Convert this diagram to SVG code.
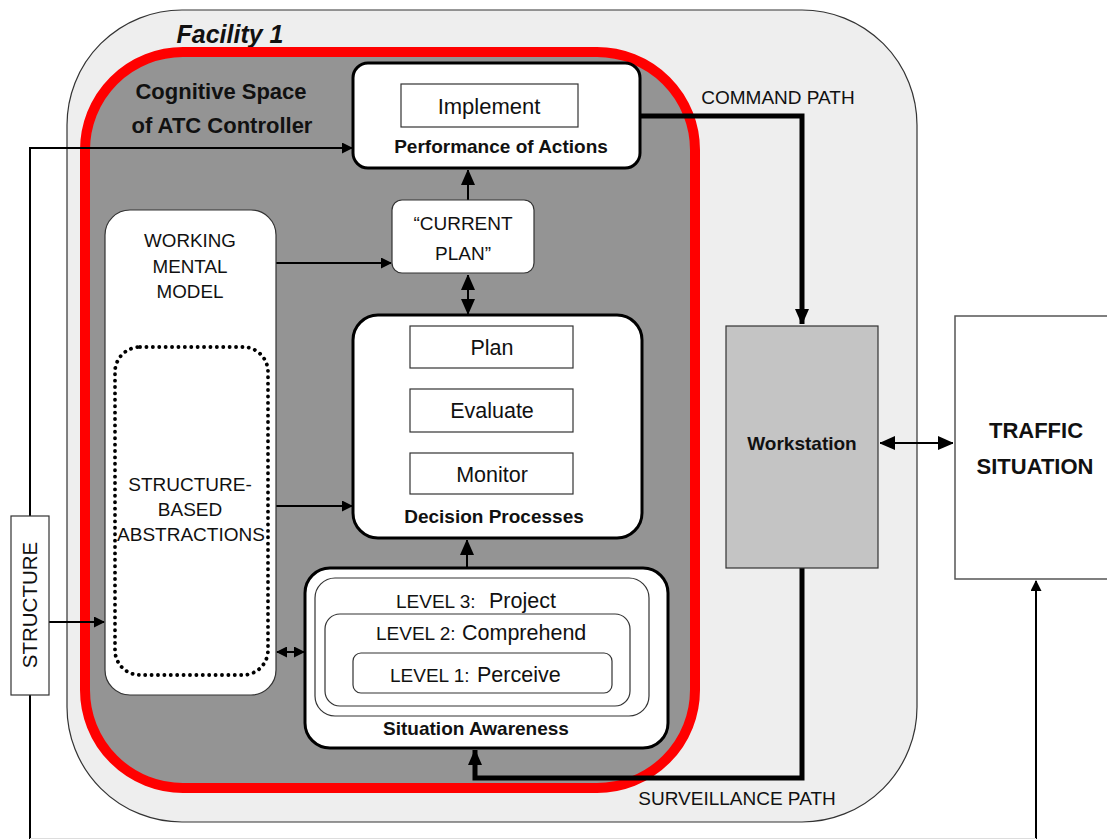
<svg xmlns="http://www.w3.org/2000/svg" width="1107" height="839" viewBox="0 0 1107 839">
<defs>
<marker id="ah" markerUnits="userSpaceOnUse" markerWidth="14" markerHeight="16" refX="15" refY="7" orient="auto-start-reverse"><path d="M0,0 L16,7 L0,14 z" fill="#000"/></marker>
<marker id="at" markerUnits="userSpaceOnUse" markerWidth="11" markerHeight="11" refX="10" refY="5.5" orient="auto-start-reverse"><path d="M0,0 L11,5.5 L0,11 z" fill="#000"/></marker>
<style>
text{font-family:"Liberation Sans",Arial,sans-serif;fill:#111}
.b{font-weight:bold}
.box{fill:#fff;stroke:#000;stroke-width:3}
.thin{fill:#fff;stroke:#333;stroke-width:1.2}
.thick{fill:none;stroke:#000;stroke-width:5}
.line{fill:none;stroke:#000;stroke-width:2}
.lv{font-size:19px}
.lw{font-size:21.5px}
</style>
</defs>
<rect width="1107" height="839" fill="#fff"/>
<g id="facility">
<rect x="67" y="10" width="850" height="812" rx="115" ry="115" fill="#eeeeee" stroke="#333" stroke-width="1.2"/>
<text x="230" y="43" class="b" font-style="italic" font-size="25" text-anchor="middle">Facility 1</text>
<text x="778" y="104" font-size="19" text-anchor="middle">COMMAND PATH</text>
<text x="737" y="805" font-size="19" text-anchor="middle">SURVEILLANCE PATH</text>
</g>
<g id="cognitive-space">
<rect x="85" y="52" width="610" height="736" rx="98" ry="98" fill="#949494" stroke="#ff0000" stroke-width="10"/>
<text x="221" y="99" class="b" font-size="22" text-anchor="middle">Cognitive Space</text>
<text x="222" y="133" class="b" font-size="22" text-anchor="middle">of ATC Controller</text>
</g>
<g id="connectors">
<path d="M640,116 H802 V324" class="thick" marker-end="url(#ah)"/>
<path d="M802,568 V778 H475 V750" class="thick" marker-end="url(#ah)"/>
<path d="M880,443 H953" class="line" stroke-width="5" marker-start="url(#ah)" marker-end="url(#ah)"/>
<path d="M468,200 V170" class="line" stroke-width="5" marker-end="url(#ah)"/>
<path d="M468,275 V314" class="line" stroke-width="5" marker-start="url(#ah)" marker-end="url(#ah)"/>
<path d="M467,568 V540" class="line" stroke-width="5" marker-end="url(#ah)"/>
<path d="M30,516 V148 H352" class="line" marker-end="url(#at)"/>
<path d="M30,695 V839" class="line"/>
<path d="M49,622 H104" class="line" marker-end="url(#at)"/>
<path d="M276,263 H391" class="line" marker-end="url(#at)"/>
<path d="M276,506 H352" class="line" marker-end="url(#at)"/>
<path d="M277,652 H304" class="line" marker-start="url(#at)" marker-end="url(#at)"/>
<path d="M1036,839 V581" class="line" marker-end="url(#at)"/>
<path d="M30,838.5 H1036" fill="none" stroke="#ddd" stroke-width="1"/>
</g>
<g id="performance">
<rect x="353" y="63" width="287" height="105" rx="15" class="box"/>
<rect x="401" y="84" width="177" height="43" fill="#fff" stroke="#333" stroke-width="1.2"/>
<text x="489" y="114" font-size="22" text-anchor="middle">Implement</text>
<text x="501" y="153" class="b" font-size="19" text-anchor="middle">Performance of Actions</text>
</g>
<g id="current-plan">
<rect x="392" y="200" width="142" height="73" rx="10" class="thin"/>
<text x="463" y="230" font-size="19" text-anchor="middle">“CURRENT</text>
<text x="463" y="260" font-size="19" text-anchor="middle">PLAN”</text>
</g>
<g id="decision">
<rect x="353" y="315" width="289" height="223" rx="25" class="box"/>
<rect x="410" y="326" width="163" height="42" fill="#fff" stroke="#333" stroke-width="1.2"/>
<text x="492" y="355" font-size="21.5" text-anchor="middle">Plan</text>
<rect x="410" y="389" width="163" height="43" fill="#fff" stroke="#333" stroke-width="1.2"/>
<text x="492" y="418" font-size="21.5" text-anchor="middle">Evaluate</text>
<rect x="410" y="453" width="163" height="41" fill="#fff" stroke="#333" stroke-width="1.2"/>
<text x="492" y="482" font-size="21.5" text-anchor="middle">Monitor</text>
<text x="494" y="523" class="b" font-size="19" text-anchor="middle">Decision Processes</text>
</g>
<g id="situation-awareness">
<rect x="305" y="568" width="363" height="180" rx="25" class="box"/>
<rect x="315" y="578" width="334" height="138" rx="20" class="thin"/>
<rect x="325" y="614" width="305" height="92" rx="15" class="thin"/>
<rect x="353" y="653" width="259" height="40" rx="8" class="thin"/>
<text y="608"><tspan x="396" class="lv">LEVEL 3:</tspan><tspan x="489" class="lw">Project</tspan></text>
<text y="640"><tspan x="376" class="lv">LEVEL 2:</tspan><tspan x="462" class="lw">Comprehend</tspan></text>
<text y="682"><tspan x="390" class="lv">LEVEL 1:</tspan><tspan x="477" class="lw">Perceive</tspan></text>
<text x="476" y="735" class="b" font-size="19" text-anchor="middle">Situation Awareness</text>
</g>
<g id="working-mental-model">
<rect x="105" y="210" width="171" height="485" rx="25" class="thin"/>
<text x="190" y="247" font-size="18.8" text-anchor="middle">WORKING</text>
<text x="190" y="273" font-size="18.8" text-anchor="middle">MENTAL</text>
<text x="190" y="298" font-size="18.8" text-anchor="middle">MODEL</text>
</g>
<g id="structure-based-abstractions">
<rect x="115" y="347" width="153" height="328" rx="25" fill="none" stroke="#000" stroke-width="3.8" stroke-dasharray="0.1 6.3" stroke-linecap="round"/>
<text x="190" y="491" font-size="19" text-anchor="middle">STRUCTURE-</text>
<text x="190" y="516" font-size="19" text-anchor="middle">BASED</text>
<text x="191" y="541" font-size="19" text-anchor="middle">ABSTRACTIONS</text>
</g>
<g id="workstation">
<rect x="726" y="326" width="152" height="242" fill="#c4c4c4" stroke="#333" stroke-width="1.2"/>
<text x="802" y="450" class="b" font-size="19" text-anchor="middle">Workstation</text>
</g>
<g id="traffic-situation">
<rect x="955" y="316" width="160" height="263" fill="#fff" stroke="#555" stroke-width="1.5"/>
<text x="1036" y="438" class="b" font-size="22" text-anchor="middle">TRAFFIC</text>
<text x="1035" y="474" class="b" font-size="22" text-anchor="middle">SITUATION</text>
</g>
<g id="structure">
<rect x="11" y="516" width="38" height="179" fill="#fff" stroke="#333" stroke-width="1.2"/>
<text transform="translate(37,605) rotate(-90)" font-size="20.5" text-anchor="middle">STRUCTURE</text>
</g>
</svg>
